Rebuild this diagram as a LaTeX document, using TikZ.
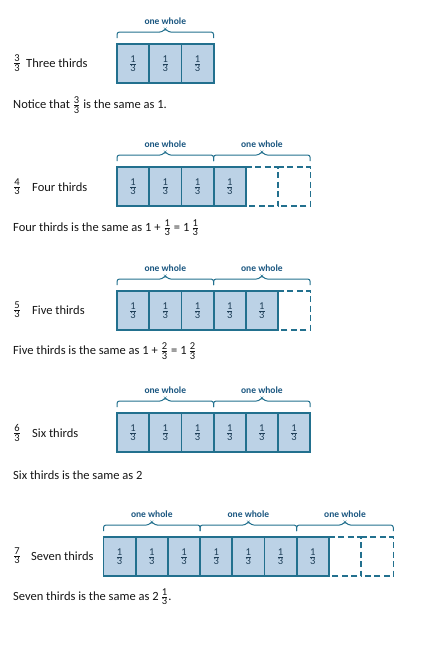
\documentclass[tikz,border=0pt]{standalone}
\usepackage{amsmath}
\usepackage{fontspec}
\setmainfont{Carlito}
\definecolor{cellfill}{HTML}{BCD2E6}
\definecolor{edge}{HTML}{22708E}
\definecolor{wholeblue}{HTML}{1A5680}
\definecolor{txt}{HTML}{151515}
\definecolor{celltxt}{HTML}{1F3F58}
\newcommand\fr[2]{$\genfrac{}{}{0.5pt}{}{\mbox{\fontsize{10.5}{10.5}\selectfont #1}}{\mbox{\fontsize{10.5}{10.5}\selectfont #2}}$}
\newcommand\fracbar[5]{% prefix, x0, top, total, filled
  \foreach \i in {1,...,#4} {
    \ifnum\i>#5\relax
      \node[emptycell] (#1c\i) at ({#2+32.2*(\i-0.5)},{#3+19.5}) {};
      \draw[dashline] (#1c\i.north west) -- (#1c\i.north east) -- (#1c\i.south east) -- (#1c\i.south west);
    \fi
  }
  \foreach \i in {1,...,#5} {
    \node[cell] (#1c\i) at ({#2+32.2*(\i-0.5)},{#3+19.5}) {\fr13};
  }
}
\newcommand\onewhole[4]{% name, x1, x2, top
  \draw[bracestyle] (#2,#4-6) -- (#2,#4-12) -- ({(#2+#3)/2-3},#4-12) -- ({(#2+#3)/2},#4-15.5) -- ({(#2+#3)/2+3},#4-12) -- (#3,#4-12) -- (#3,#4-6);
  \node[wholelbl] (#1) at ({(#2+#3)/2},#4-23) {one whole};
}
\begin{document}
\begin{tikzpicture}[x=1pt,y=-1pt,
  cell/.style={draw=edge,line width=1.8pt,fill=cellfill,minimum width=32.2pt,minimum height=39pt,inner sep=0pt,text=celltxt},
  emptycell/.style={minimum width=32.2pt,minimum height=39pt,inner sep=0pt},
  dashline/.style={draw=edge,line width=1.8pt,dash pattern=on 6pt off 3.5pt},
  bracestyle/.style={draw=edge,line width=1pt,rounded corners=2.5pt},
  wholelbl/.style={text=wholeblue,font=\bfseries\fontsize{9.5}{9.5}\selectfont,inner sep=0pt},
  lbl/.style={text=txt,font=\fontsize{12.5}{13}\selectfont,anchor=west,inner sep=0pt},
]
\useasboundingbox (0,0) rectangle (428,667);
% Row 1
\onewhole{w1a}{117}{213.6}{44}
\fracbar{a}{117}{44}{3}{3}
\node[lbl] (f1) at (13,63) {\fr33};
\node[lbl] (l1) at (26,63) {Three thirds};
\node[lbl] (s1) at (13,105) {Notice that \fr33 is the same as 1.};
% Row 2
\onewhole{w2a}{117}{213.6}{167}
\onewhole{w2b}{213.6}{310.2}{167}
\fracbar{b}{117}{167}{6}{4}
\node[lbl] (f2) at (13,187) {\fr43};
\node[lbl] (l2) at (32,187) {Four thirds};
\node[lbl] (s2) at (13,228) {Four thirds is the same as 1 + \fr13 = 1\,\fr13};
% Row 3
\onewhole{w3a}{117}{213.6}{291}
\onewhole{w3b}{213.6}{310.2}{291}
\fracbar{c}{117}{291}{6}{5}
\node[lbl] (f3) at (13,310) {\fr53};
\node[lbl] (l3) at (32,310) {Five thirds};
\node[lbl] (s3) at (13,351) {Five thirds is the same as 1 + \fr23 = 1\,\fr23};
% Row 4
\onewhole{w4a}{117}{213.6}{413}
\onewhole{w4b}{213.6}{310.2}{413}
\fracbar{d}{117}{413}{6}{6}
\node[lbl] (f4) at (13,433) {\fr63};
\node[lbl] (l4) at (32,433) {Six thirds};
\node[lbl] (s4) at (13,475) {Six thirds is the same as 2};
% Row 5
\onewhole{w5a}{103.5}{200.1}{537}
\onewhole{w5b}{200.1}{296.7}{537}
\onewhole{w5c}{296.7}{393.3}{537}
\fracbar{e}{103.5}{537}{9}{7}
\node[lbl] (f5) at (13,556) {\fr73};
\node[lbl] (l5) at (31,556) {Seven thirds};
\node[lbl] (s5) at (13,597) {Seven thirds is the same as 2\,\fr13.};
\end{tikzpicture}
\end{document}
